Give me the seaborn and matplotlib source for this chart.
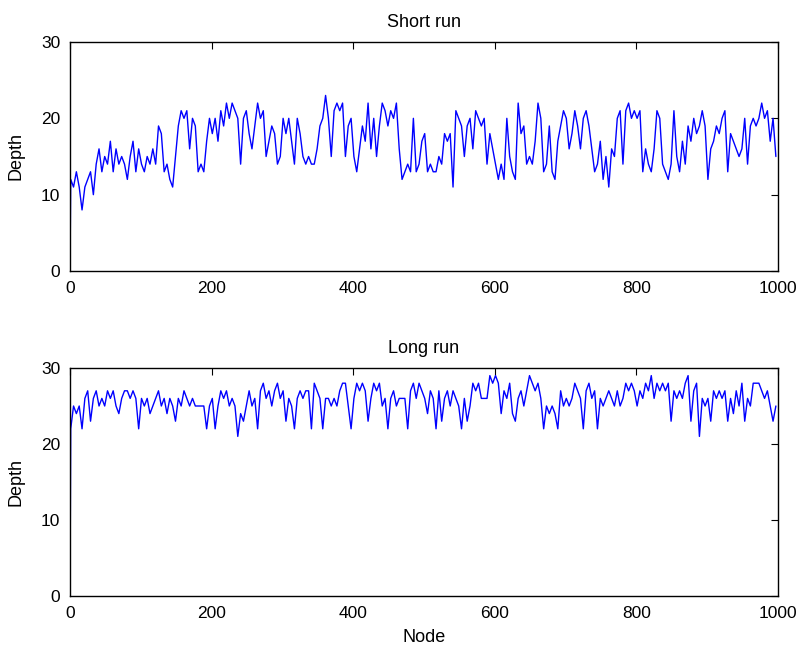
import numpy as np
import pandas as pd
import matplotlib
matplotlib.use("Agg")
import matplotlib.pyplot as plt
import seaborn as sns

# Node indices: start node 0, then every 4th node
start_depth = 0
step = 4

short_run = [
    12, 11, 13, 11, 8, 11, 12, 13, 10, 14, 16, 13, 15, 14, 17, 13, 16, 14, 15, 14, 12, 15, 17, 13, 16,
    14, 13, 15, 14, 16, 14, 19, 18, 13, 14, 12, 11, 15, 19, 21, 20, 21, 16, 20, 19, 13, 14, 13, 17, 20,
    18, 20, 17, 21, 19, 22, 20, 22, 21, 20, 14, 20, 21, 18, 16, 19, 22, 20, 21, 15, 17, 19, 18, 14, 15,
    20, 18, 20, 17, 14, 20, 18, 15, 14, 15, 14, 14, 16, 19, 20, 23, 20, 15, 21, 22, 21, 22, 15, 19, 20,
    15, 13, 16, 19, 17, 22, 16, 20, 15, 19, 22, 21, 19, 21, 20, 22, 16, 12, 13, 14, 13, 20, 13, 14, 17,
    18, 13, 14, 13, 13, 15, 14, 18, 17, 18, 11, 21, 20, 19, 15, 19, 20, 16, 21, 20, 19, 20, 14, 18, 16,
    14, 12, 14, 12, 20, 15, 13, 12, 22, 18, 19, 14, 15, 14, 17, 22, 20, 13, 14, 19, 13, 12, 17, 19, 21,
    20, 16, 18, 21, 19, 16, 20, 21, 19, 16, 13, 14, 17, 12, 15, 11, 16, 15, 20, 21, 14, 21, 22, 20, 21,
    20, 21, 13, 16, 14, 13, 16, 21, 20, 14, 13, 12, 14, 21, 15, 13, 17, 14, 19, 17, 20, 18, 19, 21, 19,
    12, 16, 17, 19, 18, 20, 21, 13, 18, 17, 16, 15, 16, 20, 14, 19, 20, 19, 20, 22, 20, 21, 17, 20, 15,
]

long_run = [
    22, 25, 24, 25, 22, 26, 27, 23, 26, 27, 25, 26, 25, 27, 26, 27, 25, 24, 26, 27, 27, 26, 27, 26, 22,
    26, 25, 26, 24, 25, 26, 27, 25, 26, 24, 26, 25, 23, 26, 25, 27, 26, 25, 26, 25, 25, 25, 25, 22, 25,
    26, 22, 25, 27, 26, 27, 25, 26, 25, 21, 24, 23, 25, 27, 25, 26, 22, 27, 28, 26, 27, 25, 27, 28, 26,
    27, 23, 26, 25, 22, 26, 27, 26, 27, 27, 22, 28, 27, 26, 22, 26, 26, 25, 26, 25, 27, 28, 28, 25, 22,
    26, 28, 27, 28, 27, 23, 26, 28, 27, 28, 25, 26, 22, 26, 27, 25, 26, 26, 26, 22, 27, 28, 26, 28, 27,
    26, 24, 27, 26, 22, 27, 23, 26, 27, 25, 27, 26, 25, 22, 26, 23, 25, 28, 27, 28, 26, 26, 26, 29, 28,
    29, 28, 24, 27, 26, 28, 24, 23, 26, 27, 25, 27, 29, 28, 27, 28, 26, 22, 25, 24, 25, 24, 22, 27, 25,
    26, 25, 26, 28, 27, 26, 22, 27, 28, 26, 27, 22, 26, 25, 26, 27, 26, 25, 27, 25, 26, 28, 27, 28, 27,
    25, 27, 26, 28, 27, 29, 26, 28, 27, 28, 27, 28, 23, 27, 26, 27, 26, 28, 29, 23, 27, 28, 21, 26, 25,
    26, 23, 27, 26, 27, 26, 27, 23, 26, 24, 27, 25, 28, 23, 26, 25, 28, 28, 28, 27, 26, 27, 25, 23, 25,
]

titles = ["Short run", "Long run"]
x_ticks = [0, 200, 400, 600, 800, 1000]
y_ticks = [0, 10, 20, 30]

sns.set_style("white")
plt.rcParams["font.family"] = ["Liberation Sans", "DejaVu Sans"]
plt.rcParams["text.color"] = "black"
plt.rcParams["axes.labelcolor"] = "black"

def make_df(vals):
    nodes = np.concatenate([[0], 1 + step * np.arange(len(vals))])
    depth = np.concatenate([[start_depth], vals])
    return pd.DataFrame({"Node": nodes, "Depth": depth})

fig = plt.figure(figsize=(8.01, 6.47), dpi=100)
ax1 = fig.add_axes([70 / 801, 1 - 271 / 647, 708 / 801, 229 / 647])
ax2 = fig.add_axes([70 / 801, 1 - 596 / 647, 708 / 801, 228 / 647])

for ax, vals, title in zip([ax1, ax2], [short_run, long_run], titles):
    df = make_df(vals)
    sns.lineplot(data=df, x="Node", y="Depth", ax=ax, color=(0, 0, 1),
                 linewidth=1.0, estimator=None, sort=False)
    ax.set_xlim(0, 1000)
    ax.set_ylim(0, 30)
    ax.set_xticks(x_ticks)
    ax.set_yticks(y_ticks)
    ax.set_title(title, fontsize=13, pad=11, color="black")
    ax.set_ylabel("Depth", fontsize=13, labelpad=12, color="black")
    ax.set_xlabel("")
    ax.tick_params(direction="in", top=True, right=True, length=5,
                   width=0.8, labelsize=12.5, colors="black", pad=7)
    for s in ax.spines.values():
        s.set_visible(True)
        s.set_color("black")
        s.set_linewidth(1.0)

ax2.set_xlabel("Node", fontsize=13, labelpad=6, color="black")

fig.savefig("out.png", dpi=100, facecolor="white")
